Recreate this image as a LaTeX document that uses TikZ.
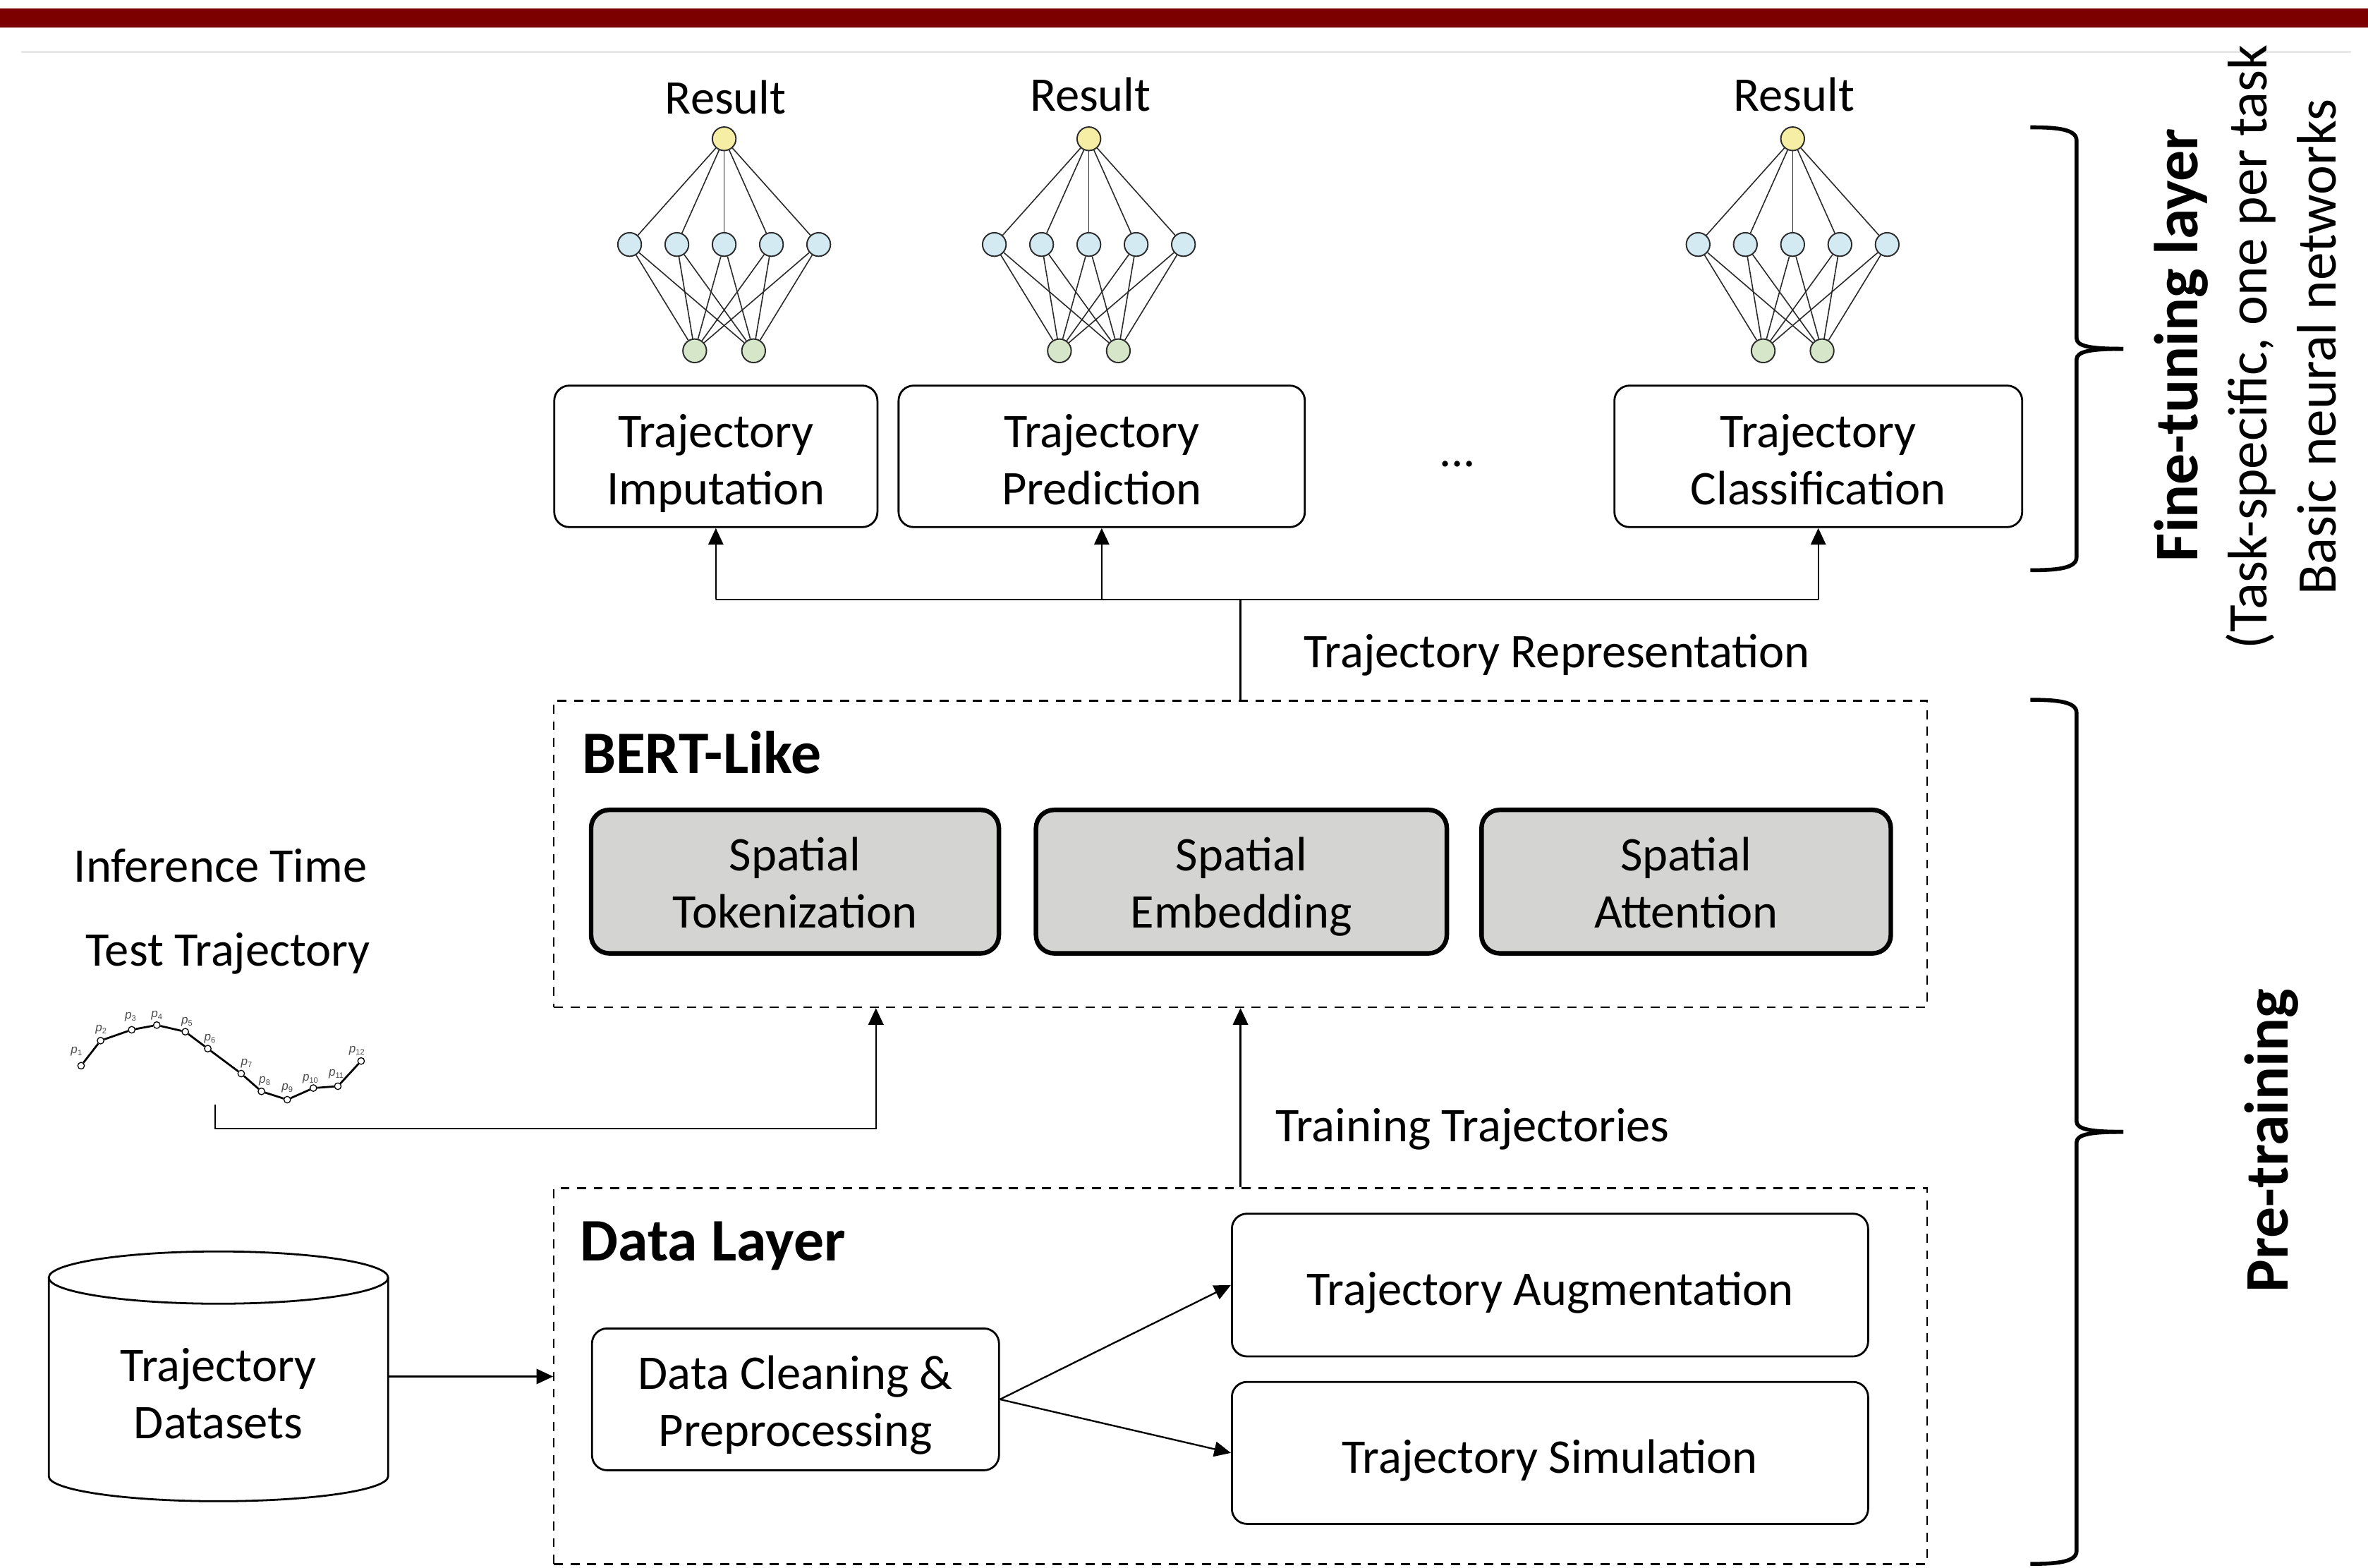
\documentclass[tikz,border=0pt]{standalone}
\usepackage{fontspec}
\setmainfont{Carlito}
\newfontfamily\labfont{Liberation Sans}
\usetikzlibrary{arrows.meta}

\definecolor{barred}{HTML}{7D0000}
\definecolor{sepgrey}{HTML}{E8E8E8}
\definecolor{nnyellow}{HTML}{F6EEA4}
\definecolor{nnblue}{HTML}{D3EAF3}
\definecolor{nngreen}{HTML}{D6E7C9}
\definecolor{boxgrey}{HTML}{D4D4D2}
\definecolor{nnline}{HTML}{2B2B2B}

\newcommand{\mainsz}{\fontsize{32}{38}\selectfont}
\newcommand{\headsz}{\fontsize{40}{46}\selectfont\bfseries}
\newcommand{\sidesz}{\fontsize{37}{45}\selectfont}
\newcommand{\sidebf}{\fontsize{41}{45}\selectfont\bfseries}
\newcommand{\tst}[1]{\rule{0pt}{#1pt}}
\newcommand{\bst}{\rule[-8pt]{0pt}{8pt}}
\newcommand{\ptlab}[1]{{\labfont\itshape p}\raisebox{-1.4pt}{\labfont\fontsize{5.2}{6}\selectfont #1}}

\begin{document}
\begin{tikzpicture}[x=1pt,y=-1pt,
  tbox/.style={draw, line width=1.3pt, rounded corners=10pt, align=center, font=\mainsz, inner sep=0pt},
  gbox/.style={draw, line width=3pt, rounded corners=12pt, fill=boxgrey, align=center, font=\mainsz, inner sep=0pt},
  dbox/.style={draw, line width=1.1pt, dash pattern=on 6pt off 5pt, inner sep=0pt},
  conn/.style={line width=1.1pt},
  arr/.style={conn, -{Triangle[length=11pt,width=10pt]}},
  lbl/.style={font=\mainsz, anchor=base, inner sep=0pt},
  head/.style={font=\headsz, anchor=base west, inner sep=0pt},
  side/.style={rotate=90, anchor=base, inner sep=0pt, font=\sidesz},
  nnode/.style={circle, draw=nnline, line width=0.9pt, minimum size=15.6pt, inner sep=0pt},
  nnedge/.style={draw=nnline, line width=0.75pt},
  tpt/.style={circle, draw, fill=white, line width=0.6pt, minimum size=4.4pt, inner sep=0pt},
  plab/.style={text=black!70, inner sep=0pt, font=\labfont\fontsize{8}{9}\selectfont},
  bracepath/.style={line width=2.6pt, line cap=butt, line join=round}
]
\useasboundingbox (0,0) rectangle (1568,1038);
\fill[white] (0,0) rectangle (1568,1038);

% header bar and separator
\fill[barred] (0,5.6) rectangle (1568,18.3);
\draw[sepgrey, line width=1.2pt] (14,34.3) -- (1557,34.3);

% neural networks
\foreach \k/\cx/\ry in {a/479.5/75.5, b/721/73.5, c/1187/73.5} {
  \node[lbl] (res\k) at ({\cx+1},\ry) {Result};
  \node[nnode, fill=nnyellow] (\k y) at (\cx,91.9) {};
  \foreach \i/\dx in {1/-62.6, 2/-31.3, 3/0, 4/31.3, 5/62.6}
    \node[nnode, fill=nnblue] (\k b\i) at ({\cx+(\dx)},161.9) {};
  \foreach \j/\dx in {1/-19.5, 2/19.5}
    \node[nnode, fill=nngreen] (\k g\j) at ({\cx+(\dx)},232.3) {};
  \foreach \i in {1,...,5} {
    \draw[nnedge] (\k y) -- (\k b\i);
    \foreach \j in {1,2} \draw[nnedge] (\k b\i) -- (\k g\j);
  }
}

% fine-tuning task boxes
\node[tbox, minimum width=214pt, minimum height=93.7pt] (imp) at (474,302.2) {\tst{34}Trajectory\\Imputation\bst};
\node[tbox, minimum width=269pt, minimum height=93.7pt] (pred) at (729.5,302.2) {\tst{34}Trajectory\\Prediction\bst};
\node[tbox, minimum width=270pt, minimum height=93.7pt] (cls) at (1204,302.2) {\tst{34}Trajectory\\Classification\bst};
\node[lbl] (dots) at (965,309) {...};

% BERT-like block
\node[dbox, minimum width=909.2pt, minimum height=203pt] (bert) at (821.4,565.5) {};
\node[head] (berth) at (385.2,512.2) {BERT-Like};
\node[gbox, minimum width=270pt, minimum height=95pt] (tok) at (526.4,583.8) {\tst{31.7}Spatial\\Tokenization\bst};
\node[gbox, minimum width=272pt, minimum height=95pt] (emb) at (822,583.8) {\tst{31.7}Spatial\\Embedding\bst};
\node[gbox, minimum width=271pt, minimum height=95pt] (att) at (1116.5,583.8) {\tst{31.7}Spatial\\Attention\bst};

% representation bus
\coordinate (bus) at (821.4,397);
\draw[conn] (bert.north) -- (bus);
\draw[conn] (imp.south |- bus) -- (cls.south |- bus);
\draw[arr] (imp.south |- bus) -- (imp.south);
\draw[arr] (pred.south |- bus) -- (pred.south);
\draw[arr] (cls.south |- bus) -- (cls.south);
\node[lbl] (replbl) at (1031,442) {Trajectory Representation};

% data layer
\node[dbox, minimum width=909.2pt, minimum height=248.9pt] (data) at (821.4,911.25) {};
\node[head] (datah) at (384,835) {Data Layer};
\node[tbox, minimum width=269.5pt, minimum height=93.9pt] (clean) at (526.75,926.65) {\tst{32.3}Data Cleaning \&\\Preprocessing\bst};
\node[tbox, minimum width=421.3pt, minimum height=94.5pt] (aug) at (1026.35,850.95) {\tst{34.5}Trajectory Augmentation\bst};
\node[tbox, minimum width=421.3pt, minimum height=94pt] (sim) at (1026.35,962.1) {\tst{34.5}Trajectory Simulation\bst};
\draw[arr] (clean.east) -- (aug.west);
\draw[arr] (clean.east) -- (sim.west);

\draw[arr] (data.north) -- (bert.south);
\node[lbl] (trlbl) at (975,756) {Training Trajectories};

% datasets cylinder
\node[minimum width=224.7pt, minimum height=165pt, inner sep=0pt] (ds) at (144.65,911.5) {};
\draw[line width=1.3pt] (144.65,846) ellipse [x radius=112.35pt, y radius=17.3pt];
\draw[line width=1.3pt] (32.3,846) -- (32.3,977.6)
  arc[start angle=180, end angle=360, x radius=112.35pt, y radius=16.5pt] -- (257,846);
\node[font=\mainsz, align=center, inner sep=0pt] (dslbl) at (144.65,922.6) {\tst{30}Trajectory\\Datasets\bst};
\draw[arr] (ds.east) -- (data.west |- ds.east);

% inference-time test trajectory
\node[lbl] (inf) at (146,584) {Inference Time};
\node[lbl] (tt) at (151,639.5) {Test Trajectory};
\foreach \n/\px/\py/\lx/\ly in {1/53.7/705.7/50.6/696.3, 2/66.6/689.1/66.9/681.6,
  3/87.2/681.9/86.4/673.4, 4/103.8/678.8/103.8/672.6, 5/122.7/683.2/123.8/676.5,
  6/137.6/694.4/138.9/687.8, 7/159.7/710.9/163.2/704, 8/173.1/722.7/175.2/715.9,
  9/190.2/728.2/190.2/720.5, 10/207.5/720.5/205.5/714.3, 11/223.7/719.3/222.6/711.2,
  12/239.1/702.6/236.3/695.6} {
  \node[tpt] (t\n) at (\px,\py) {};
  \node[plab] (pl\n) at (\lx,\ly) {\ptlab{\n}};
}
\draw[line width=1.3pt] (t1) -- (t2) -- (t3) -- (t4) -- (t5) -- (t6) -- (t7) -- (t8) -- (t9) -- (t10) -- (t11) -- (t12);
\coordinate (tstart) at (142.5,731.3);
\coordinate (tturn) at (580,747.3);
\draw[arr] (tstart) |- (tturn) -- (tturn |- bert.south);

% braces
\draw[bracepath] (1344.4,84.3) .. controls (1362,84.3) and (1375,85.5) .. (1375,93)
  -- (1375,224) .. controls (1375,229.5) and (1385,231) .. (1406,231);
\draw[bracepath] (1344.4,377.6) .. controls (1362,377.6) and (1375,376.4) .. (1375,369)
  -- (1375,238) .. controls (1375,232.5) and (1385,231) .. (1406,231);
\draw[bracepath] (1344.4,463.4) .. controls (1362,463.4) and (1375,464.6) .. (1375,472)
  -- (1375,742.5) .. controls (1375,748) and (1385,749.5) .. (1406,749.5);
\draw[bracepath] (1344.4,1035.6) .. controls (1362,1035.6) and (1375,1034.4) .. (1375,1027)
  -- (1375,756.5) .. controls (1375,751) and (1385,749.5) .. (1406,749.5);

% side labels
\node[side, font=\sidebf] (ftl) at (1455,228.5) {Fine-tuning layer};
\node[side] (tsk) at (1500.8,229.8) {(Task-specific, one per task};
\node[side] (bnn) at (1546.8,229.8) {Basic neural networks};
\node[side, font=\sidebf] (ptr) at (1514.8,755.3) {Pre-training};
\end{tikzpicture}
\end{document}
